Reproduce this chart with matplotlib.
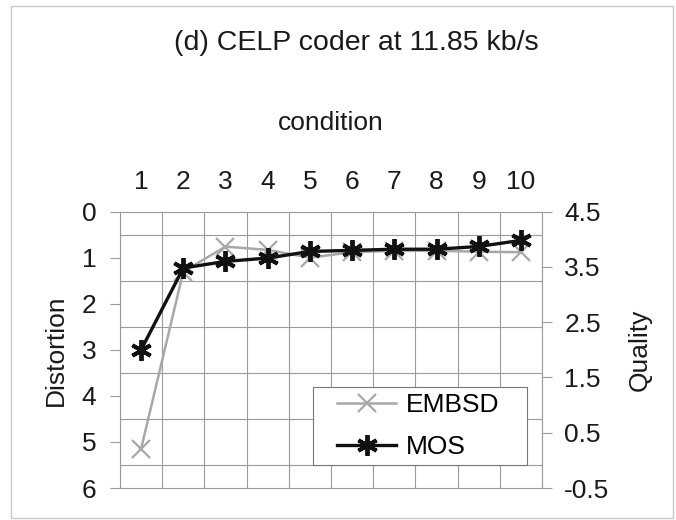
import numpy as np
import matplotlib
matplotlib.use("Agg")
import matplotlib.pyplot as plt
from matplotlib.patches import Rectangle

plt.rcParams['font.family'] = ['Liberation Sans', 'DejaVu Sans']

# conditions and measured scores
conditions = [1, 2, 3, 4, 5, 6, 7, 8, 9, 10]
embsd = [5.15, 1.3, 0.76, 0.83, 1.0, 0.88, 0.85, 0.85, 0.87, 0.88]
mos = [2.0, 3.48, 3.6, 3.66, 3.78, 3.8, 3.82, 3.82, 3.87, 3.98]

dist_ticks = [0, 1, 2, 3, 4, 5, 6]
qual_ticks = [4.5, 3.5, 2.5, 1.5, 0.5, -0.5]

grid_col = '#9a9a9a'
txt_col = '#1a1a1a'
fs = 19

fig = plt.figure(figsize=(6.76, 5.2), dpi=100)
ax = fig.add_axes([0.1775, 0.0615, 0.6243, 0.5315])
ax2 = ax.twinx()

# distortion axis (left, inverted)
ax.set_ylim(6, 0)
ax.set_xlim(0.5, 10.5)
ax.set_yticks(dist_ticks)
ax.set_yticks(np.arange(0, 6.01, 0.5), minor=True)
ax.set_xticks(conditions)
ax.set_xticks(np.arange(0.5, 10.51, 1), minor=True)
ax.xaxis.tick_top()
ax.tick_params(axis='x', which='both', length=0, labelsize=fs, pad=13, labelcolor=txt_col)
ax.tick_params(axis='y', which='major', length=7, width=0.8, color=grid_col,
               labelsize=fs, pad=10, labelcolor=txt_col)
ax.tick_params(axis='y', which='minor', length=0)
ax.grid(True, which='minor', color=grid_col, lw=0.8)
ax.set_axisbelow(True)
for s in ax.spines.values():
    s.set_color(grid_col)
    s.set_linewidth(0.8)
ax.set_ylabel('Distortion', fontsize=fs, labelpad=10, color=txt_col)

# quality axis (right)
ax2.set_ylim(-0.5, 4.5)
ax2.set_yticks(qual_ticks)
ax2.set_yticklabels(['%g' % t for t in qual_ticks])
ax2.tick_params(axis='y', length=7, width=0.8, color=grid_col, labelsize=fs,
                pad=9, labelcolor=txt_col)
for s in ax2.spines.values():
    s.set_visible(False)
ax2.set_ylabel('Quality', fontsize=fs, labelpad=13, color=txt_col)

l1, = ax.plot(conditions, embsd, color='#a8a8a8', lw=1.8, marker='x',
              markersize=13, markeredgewidth=1.6, label='EMBSD')
l2, = ax2.plot(conditions, mos, color='#111111', lw=2.4, marker=(6, 2, 0),
               markersize=15, markeredgewidth=2.8, label='MOS')

# legend box drawn separately so it can have wide side padding
ax2.add_patch(Rectangle((0.457, 0.083), 0.5075, 0.2825, transform=ax2.transAxes,
                        facecolor='white', edgecolor='#777777', lw=0.8, zorder=4))
leg = ax2.legend(handles=[l1, l2], loc='center left', bbox_to_anchor=(0.514, 0.2244),
                 fontsize=fs, frameon=False, handlelength=2.25, handletextpad=0.35,
                 borderpad=0, borderaxespad=0, labelspacing=0.7)
leg.set_zorder(5)

fig.text(0.527, 0.917, '(d) CELP coder at 11.85 kb/s', ha='center', va='center',
         fontsize=20.5, color=txt_col)
fig.text(0.49, 0.7635, 'condition', ha='center', va='center', fontsize=fs, color=txt_col)

# outer chart border
fig.patches.append(Rectangle((0.017, 0.004), 0.979, 0.984, transform=fig.transFigure,
                             fill=False, edgecolor='#c8c8c8', lw=1.0))

fig.savefig('out.png', dpi=100)
